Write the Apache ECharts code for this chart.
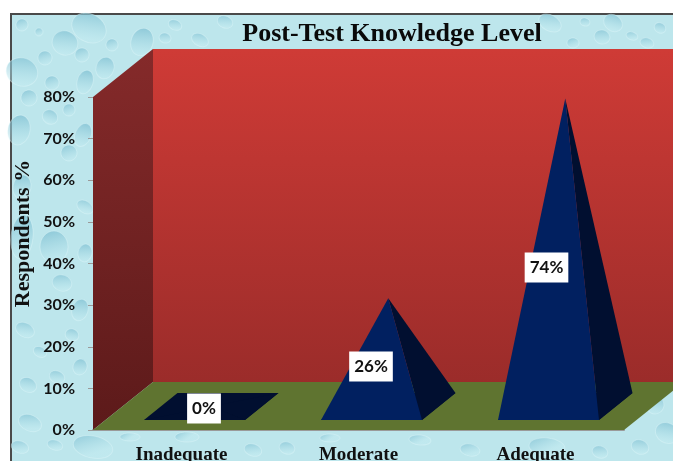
<!DOCTYPE html>
<html lang="en">
<head>
    <meta charset="UTF-8">
    <title>Post-Test Knowledge Level</title>
    <script src="https://cdn.jsdelivr.net/npm/echarts@6/dist/echarts.min.js"></script>
    <style>html,body{margin:0;padding:0;background:#fff;overflow:hidden}</style>
</head>
<body>
<div id="main" style="width:673px;height:461px;"></div>
<script>
    var categories = ['Inadequate', 'Moderate', 'Adequate'];
    var respondents = [0, 26, 74];
    var yTicks = ['0%', '10%', '20%', '30%', '40%', '50%', '60%', '70%', '80%'];

    // 3d look of the chart: how far the back wall sits from the axis plane
    var DEPTH_X = 60, DEPTH_Y = -48;
    // pyramid base, relative to the category center on the axis
    var BASE_X = 13, BASE_Y = -10, BASE_HALF = 50.5, BASE_DX = 33.5, BASE_DY = -27;
    // data label nudges, one per category
    var labelShiftX = [22.5, 12.5, 11];
    var labelShiftY = [2, 14, 15];

    // water drops of the background picture: x, y, rx, ry, rotation
    var drops = [
        [89,28,18,14,0.5],[65,43,13,12,0.4],[142,42,11,14,0.3],[112,45,6,6,0],[45,58,7,7,0],
        [82,55,7,7,0],[22,72,16,14,0.4],[52,83,7,7,0],[85,82,8,12,0.3],[105,68,9,11,0.3],
        [29,98,8,8,0],[69,110,6,6,0],[22,25,6,6,0],[39,32,4,4,0],[19,130,11,15,0.2],
        [50,117,8,7,0.6],[83,135,8,12,0.4],[22,187,9,12,0.2],[69,153,8,8,0],[85,207,9,6,0.6],
        [54,247,14,16,0],[22,237,11,22,0.1],[85,253,7,9,0.2],[62,283,10,8,0.3],[80,310,8,11,0.3],
        [25,330,10,7,0.5],[72,335,7,6,0.5],[40,352,7,5,0.5],[28,385,9,7,0.5],[57,377,8,6,0.4],
        [80,367,7,8,0.3],[30,423,12,8,0.4],[20,447,9,6,0.3],[93,447,20,11,0.2],[55,445,8,5,0.3],
        [187,437,12,5,0],[253,450,9,6,0.3],[287,448,8,6,0.3],[130,437,10,4,0],[330,438,10,4,0],
        [420,440,11,5,0.1],[470,450,10,6,0.2],[547,447,18,9,0.1],[600,452,8,6,0.3],[640,447,9,7,0.4],
        [667,433,12,10,0.5],[655,405,9,9,0.5],[200,40,9,6,0.5],[175,25,7,5,0.4],[225,22,8,6,0.4],
        [165,38,6,5,0.3],[550,23,12,8,0.5],[613,23,10,8,0.6],[602,37,8,7,0.3],[573,43,6,5,0],
        [647,43,7,5,0.3],[660,28,6,5,0.5],[632,36,6,4,0.3],[585,22,5,4,0.3]
    ];

    var bgGraphics = [
        {type: 'rect', z: -20, shape: {x: 11, y: 14, width: 720, height: 500},
            style: {fill: '#bde6ec', stroke: '#4a4a4a', lineWidth: 2}}
    ];
    drops.forEach(function (d) {
        bgGraphics.push({
            type: 'ellipse', z: -19, x: d[0], y: d[1], rotation: -d[4],
            shape: {cx: 0, cy: 0, rx: d[2], ry: d[3]},
            style: {
                fill: {type: 'linear', x: 0, y: 0, x2: 0.3, y2: 1, colorStops: [
                    {offset: 0, color: 'rgba(118,186,206,0.75)'},
                    {offset: 1, color: 'rgba(196,236,242,0.4)'}
                ]},
                stroke: 'rgba(226,247,250,0.4)',
                lineWidth: 1
            }
        });
    });

    function vGrad(top, bottom) {
        return {type: 'linear', x: 0, y: 0, x2: 0, y2: 1, colorStops: [
            {offset: 0, color: top}, {offset: 1, color: bottom}
        ]};
    }

    function renderWalls(params) {
        var r = params.coordSys;
        var x0 = r.x, x1 = r.x + r.width, top = r.y, bot = r.y + r.height;
        function poly(pts, fill) {
            return {type: 'polygon', shape: {points: pts}, style: {fill: fill}};
        }
        return {type: 'group', children: [
            poly([[x0 + DEPTH_X, top + DEPTH_Y], [x1 + DEPTH_X, top + DEPTH_Y], [x1 + DEPTH_X, bot + DEPTH_Y], [x0 + DEPTH_X, bot + DEPTH_Y]],
                vGrad('#cf3b36', '#9b2c2a')),
            poly([[x0, top], [x0 + DEPTH_X, top + DEPTH_Y], [x0 + DEPTH_X, bot + DEPTH_Y], [x0, bot]],
                vGrad('#852a2a', '#5c1a1a')),
            poly([[x0, bot], [x1, bot], [x1 + DEPTH_X, bot + DEPTH_Y], [x0 + DEPTH_X, bot + DEPTH_Y]], '#5f7430')
        ]};
    }

    function renderPyramid(params, api) {
        var i = api.value(0);
        var val = api.value(1);
        var foot = api.coord([i, 0]);
        var head = api.coord([i, val]);
        var cx = foot[0] + BASE_X, fy = foot[1] + BASE_Y;
        var fl = [cx - BASE_HALF, fy], fr = [cx + BASE_HALF, fy];
        var br = [fr[0] + BASE_DX, fy + BASE_DY], bl = [fl[0] + BASE_DX, fy + BASE_DY];
        var apex = [head[0] + BASE_X + BASE_DX / 2, head[1] + BASE_Y + BASE_DY / 2];
        var midY = (apex[1] + fy + BASE_DY / 2) / 2;
        return {type: 'group', children: [
            {type: 'polygon', shape: {points: [fl, fr, br, bl]}, style: {fill: '#010f30'}},
            {type: 'polygon', shape: {points: [fr, br, apex]}, style: {fill: '#010f30'}},
            {type: 'polygon', shape: {points: [fl, fr, apex]}, style: {fill: val > 0 ? '#012060' : '#010f30'}},
            {type: 'text', z2: 10, style: {
                text: val + '%', x: foot[0] + labelShiftX[i], y: midY + labelShiftY[i],
                align: 'center', verticalAlign: 'middle',
                font: 'bold 17px Lato', lineHeight: 20, fill: '#111',
                backgroundColor: '#fff', padding: [5, 5]
            }}
        ]};
    }

    var myChart = echarts.init(document.getElementById('main'));
    myChart.setOption({
        animation: false,
        backgroundColor: '#fff',
        graphic: bgGraphics,
        title: {
            text: 'Post-Test Knowledge Level',
            left: 387, top: 16, textAlign: 'center',
            textStyle: {fontFamily: 'Liberation Serif', fontWeight: 'bold', fontSize: 26, color: '#0a0a0a'}
        },
        grid: {left: 93, top: 97, width: 531, height: 333, outerBoundsMode: 'none'},
        xAxis: {
            type: 'category',
            data: categories,
            axisTick: {show: false},
            axisLine: {lineStyle: {color: '#9a9a9a', width: 2}},
            axisLabel: {margin: 16, fontFamily: 'Liberation Serif', fontWeight: 'bold', fontSize: 19, color: '#111'}
        },
        yAxis: {
            type: 'value',
            min: 0, max: 80, interval: 10,
            name: 'Respondents %',
            nameLocation: 'middle',
            nameRotate: 90,
            nameGap: 59,
            nameMoveOverlap: false,
            nameTextStyle: {fontFamily: 'Liberation Serif', fontWeight: 'bold', fontSize: 22, color: '#111', padding: [0, 0, 0, 60]},
            splitLine: {show: false},
            axisLine: {show: false},
            axisTick: {show: true, length: 5, lineStyle: {color: '#9a9a9a'}},
            axisLabel: {
                margin: 18, fontFamily: 'Lato', fontWeight: 'bold', fontSize: 16, color: '#111',
                formatter: function (v) { return yTicks[v / 10]; }
            }
        },
        series: [
            {type: 'custom', z: 1, renderItem: renderWalls, data: [[0, 0]], silent: true, clip: false},
            {
                type: 'custom', z: 3, renderItem: renderPyramid, clip: false,
                encode: {x: 0, y: 1},
                data: respondents.map(function (v, i) { return [i, v]; })
            }
        ]
    });
</script>
</body>
</html>
